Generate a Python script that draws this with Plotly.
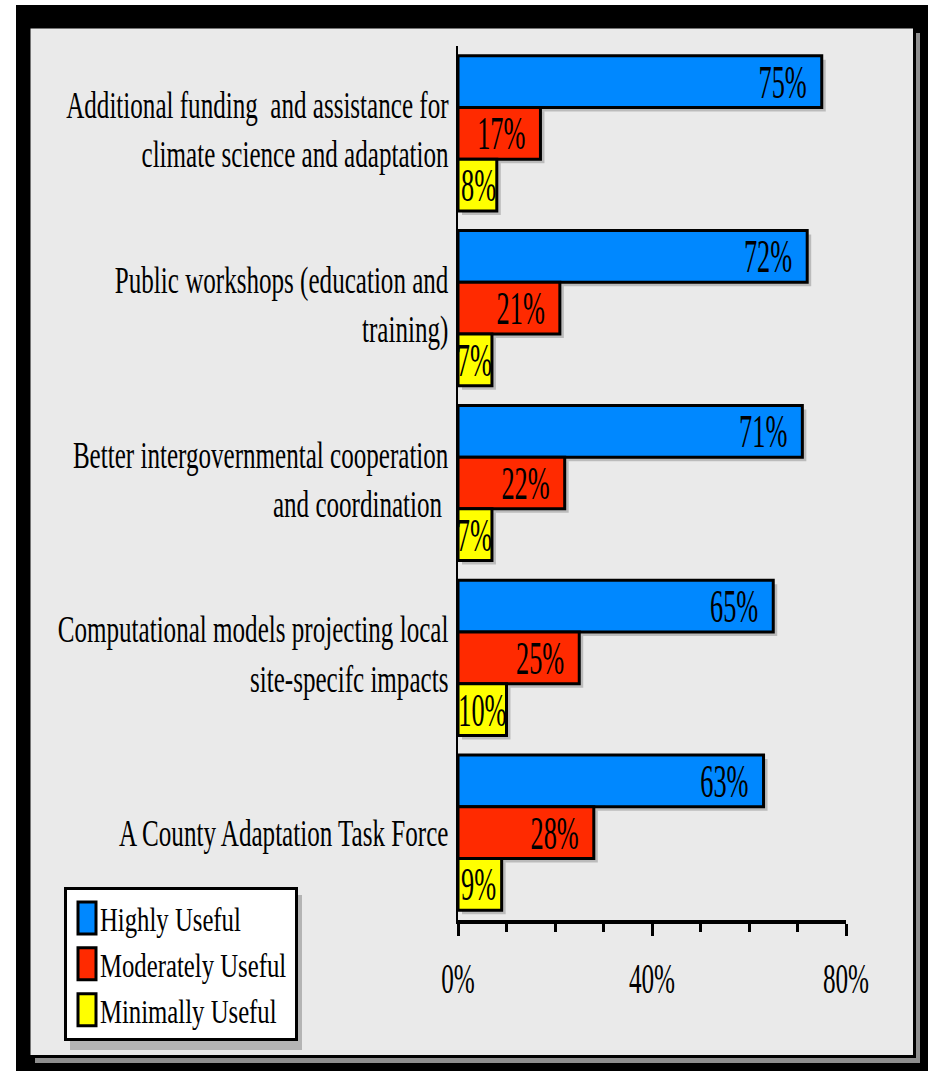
import plotly.graph_objects as go

# ---- data -------------------------------------------------------------
categories = [
    "Additional funding  and assistance for<br>climate science and adaptation",
    "Public workshops (education and<br>training)",
    "Better intergovernmental cooperation<br>and coordination ",
    "Computational models projecting local<br>site-specifc impacts",
    "A County Adaptation Task Force",
]
series_names = ["Highly Useful", "Moderately Useful", "Minimally Useful"]
highly_useful = [75, 72, 71, 65, 63]
moderately_useful = [17, 21, 22, 25, 28]
minimally_useful = [8, 7, 7, 10, 9]
series_colors = ["#0088ff", "#ff2a00", "#ffff00"]

x_tick_values = [0, 40, 80]
x_tick_labels = ["0%", "40%", "80%"]
x_minor_ticks = [10, 20, 30, 50, 60, 70]

# ---- geometry ---------------------------------------------------------
W, H = 928, 1071
L, R, T, B = 458, 846, 46, 920          # plot-area edges in pixels
X_MAX = 80
FONT = "Liberation Serif, Times New Roman, serif"

GROUP = 0.888                            # fraction of category slot filled by the 3 bars
BAR_W = GROUP / 3
OFFSETS = [-1.5 * BAR_W, -0.5 * BAR_W, 0.5 * BAR_W]
SHADOW_DX = 4 * X_MAX / (R - L)          # 4 px right
SHADOW_DY = 4 / (B - T) * len(categories)  # 4 px down


def px(x):
    return (x - L) / (R - L)


def py(y):
    return (B - y) / (B - T)


positions = list(range(len(categories)))
series_values = [highly_useful, moderately_useful, minimally_useful]

fig = go.Figure()

# soft drop shadows behind every bar
for vals, off in zip(series_values, OFFSETS):
    fig.add_trace(go.Bar(
        y=positions, x=vals, base=SHADOW_DX, orientation="h",
        width=BAR_W, offset=off + SHADOW_DY,
        marker=dict(color="rgba(0,0,0,0.2)", line=dict(width=0)),
        showlegend=False, hoverinfo="skip",
    ))

# the bars themselves
for name, vals, color, off in zip(series_names, series_values, series_colors, OFFSETS):
    fig.add_trace(go.Bar(
        y=positions, x=vals, orientation="h", name=name,
        width=BAR_W, offset=off,
        marker=dict(color=color, line=dict(color="black", width=3)),
        text=[f"{v}%" for v in vals], textposition="inside",
        insidetextanchor="end", textangle=0, constraintext="none",
        insidetextfont=dict(family=FONT, size=47, color="black"),
        cliponaxis=False, legendgroup=name,
    ))

shapes = [
    # black surround
    dict(type="rect", xref="paper", yref="paper", x0=px(16), x1=px(940),
         y0=py(5), y1=py(1080), fillcolor="black", line_width=0, layer="below"),
    # panel shadow
    dict(type="rect", xref="paper", yref="paper", x0=px(35), x1=px(920),
         y0=py(33), y1=py(1063), fillcolor="#8e8e8e", line_width=0, layer="below"),
    # light grey panel
    dict(type="rect", xref="paper", yref="paper", x0=px(29), x1=px(914.5),
         y0=py(27), y1=py(1056.5), fillcolor="#eaeaea",
         line=dict(color="black", width=3), layer="below"),
    # legend shadow
    dict(type="rect", xref="paper", yref="paper", x0=px(70), x1=px(302),
         y0=py(895), y1=py(1050), fillcolor="#b4b4b4", line_width=0, layer="below"),
]

tick_common = dict(tickcolor="black", tickwidth=3, ticklen=12)
minor_common = dict(tickmode="array", tickvals=x_minor_ticks,
                    tickcolor="black", tickwidth=2.5, ticklen=8)

fig.update_layout(
    width=W, height=H,
    margin=dict(l=L, r=W - R, t=T, b=H - B, pad=0, autoexpand=False),
    paper_bgcolor="white", plot_bgcolor="rgba(0,0,0,0)",
    barmode="overlay", hovermode=False,
    font=dict(family=FONT, color="black"),
    shapes=shapes,
    xaxis=dict(
        range=[0, X_MAX], tickmode="array", tickvals=x_tick_values,
        ticktext=x_tick_labels, ticks="outside", **tick_common,
        minor=dict(ticks="outside", **minor_common),
        showline=True, linecolor="black", linewidth=4,
        showgrid=False, zeroline=False,
        tickfont=dict(family=FONT, size=42, color="black"),
        ticklabelstandoff=7,
    ),
    xaxis2=dict(
        range=[0, X_MAX], overlaying="x", anchor="y", side="bottom",
        tickmode="array", tickvals=x_tick_values, ticks="inside", **tick_common,
        minor=dict(ticks="inside", **minor_common),
        showticklabels=False, showline=False, showgrid=False, zeroline=False,
    ),
    yaxis=dict(
        range=[len(categories) - 0.5, -0.5], tickmode="array",
        tickvals=positions, ticktext=categories, ticks="",
        showline=True, linecolor="black", linewidth=2,
        showgrid=False, zeroline=False,
        tickfont=dict(family=FONT, size=38, color="black"),
        ticklabelstandoff=0,
    ),
    legend=dict(
        x=px(64), y=py(887), xanchor="left", yanchor="top",
        bgcolor="white", bordercolor="black", borderwidth=3,
        font=dict(family=FONT, size=33, color="black"),
        tracegroupgap=0, itemwidth=30, traceorder="normal",
    ),
)

# Narrow the serif lettering horizontally (condensed Times look) and
# right-align the value labels inside their bars.
condense_js = """
var gd = document.getElementById('{plot_id}');
function condense(){
  var K = {ytick: 0.66, xtick: 0.6, legend: 0.75, bar: 0.56};
  function done(t){ var s = t.getAttribute('data-sq'); return s && s === t.getAttribute('transform'); }
  function squeeze(t, k, dx, dy){
    if (done(t)) return;
    var base = t.getAttribute('transform') || '';
    var bb = t.getBBox();
    var anc = t.getAttribute('text-anchor') || getComputedStyle(t).textAnchor || 'start';
    var ax = anc === 'end' ? bb.x + bb.width : (anc === 'middle' ? bb.x + bb.width / 2 : bb.x);
    var tr = (base + ' translate(' + (ax + (dx || 0)) + ',' + (dy || 0) + ') scale(' + k + ',1) translate(' + (-ax) + ',0)').trim();
    t.setAttribute('transform', tr);
    t.setAttribute('data-sq', tr);
  }
  gd.querySelectorAll('.ytick text').forEach(function(t){
    var multi = t.querySelectorAll('tspan.line').length > 1;
    squeeze(t, K.ytick, 0, multi ? -4 : 0);
  });
  gd.querySelectorAll('.xtick text').forEach(function(t){ squeeze(t, K.xtick, 0, 0); });
  gd.querySelectorAll('.legend text.legendtext').forEach(function(t){ squeeze(t, K.legend, -7, 0); });
  gd.querySelectorAll('.barlayer .point').forEach(function(p){
    var t = p.querySelector('text'); var path = p.querySelector('path');
    if (!t || !path || done(t)) return;
    var b = path.getBBox(); var tb = t.getBBox(); var k = K.bar;
    var w = tb.width * k;
    var pad = Math.min(15, Math.max(0, b.width - w - 3));
    var tx = b.x + b.width - pad - k * (tb.x + tb.width);
    var ty = b.y + b.height / 2 - (tb.y + tb.height / 2);
    var tr = 'translate(' + tx + ',' + ty + ') scale(' + k + ',1)';
    t.setAttribute('transform', tr);
    t.setAttribute('data-sq', tr);
  });
  var lg = gd.querySelector('.legend');
  if (lg) {
    lg.querySelectorAll('g.legendpoints path').forEach(function(p){ p.setAttribute('d', 'M9,16H-9V-16H9Z'); });
    var bg = lg.querySelector('rect.bg');
    if (bg) {
      var right = 0;
      lg.querySelectorAll('text.legendtext').forEach(function(t){ right = Math.max(right, t.getBoundingClientRect().right); });
      var left = bg.getBoundingClientRect().left;
      bg.setAttribute('width', right - left + 10);
    }
  }
}
condense();
gd.on('plotly_afterplot', condense);
"""

fig.write_html("out.html", post_script=condense_js, config={"displayModeBar": False})
